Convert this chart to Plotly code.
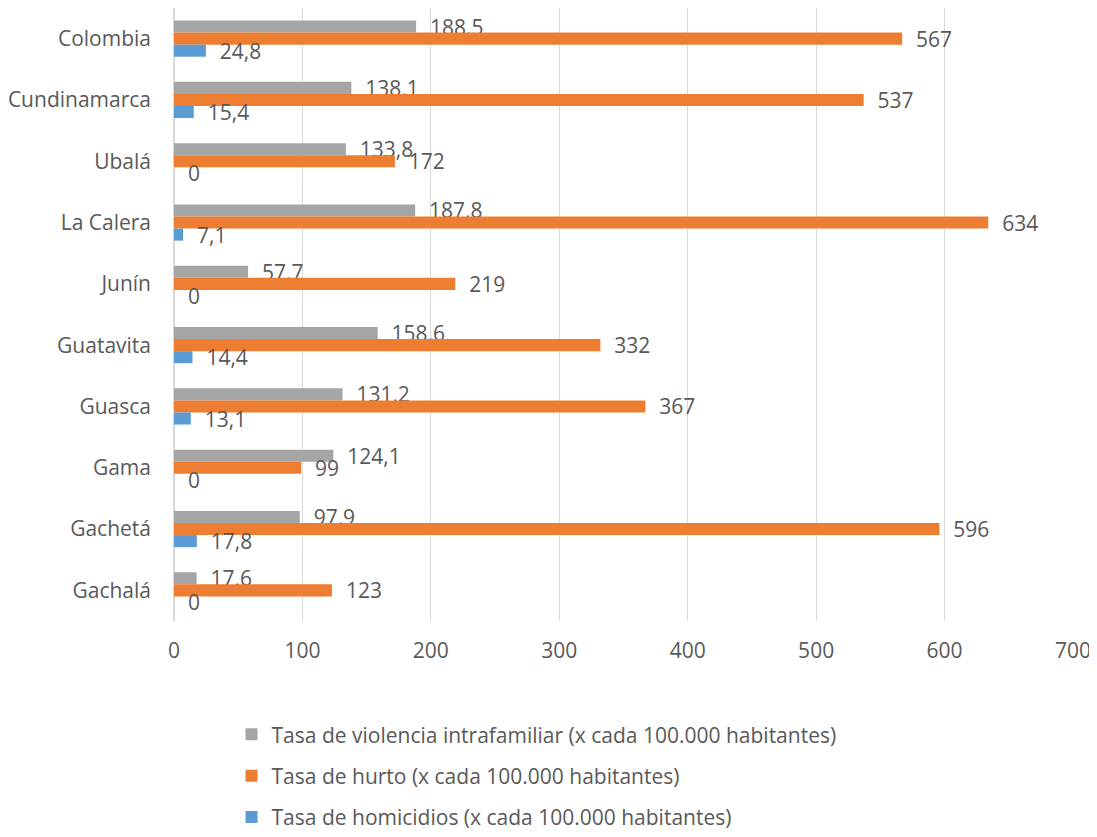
import plotly.graph_objects as go

# municipios, de arriba hacia abajo
municipios = ["Colombia", "Cundinamarca", "Ubalá", "La Calera", "Junín",
              "Guatavita", "Guasca", "Gama", "Gachetá", "Gachalá"]
violencia = [188.5, 138.1, 133.8, 187.8, 57.7, 158.6, 131.2, 124.1, 97.9, 17.6]
hurto = [567, 537, 172, 634, 219, 332, 367, 99, 596, 123]
homicidios = [24.8, 15.4, 0, 7.1, 0, 14.4, 13.1, 0, 17.8, 0]

nombres = ["Tasa de violencia intrafamiliar (x cada 100.000 habitantes)",
           "Tasa de hurto (x cada 100.000 habitantes)",
           "Tasa de homicidios (x cada 100.000 habitantes)"]
colores = ["#A5A5A5", "#ED7D31", "#5B9BD5"]
txt_color = "#595959"
fuente = "Open Sans"


def etiqueta(v):
    # coma decimal, con un poco de aire delante como en Excel
    return "\u00a0\u00a0" + f"{v:g}".replace(".", ",")


fig = go.Figure()
for i, serie in enumerate([violencia, hurto, homicidios]):
    fig.add_trace(go.Bar(
        y=municipios, x=serie, orientation="h", name=nombres[i],
        marker=dict(color=colores[i], line=dict(width=0)),
        text=[etiqueta(v) for v in serie], textposition="outside",
        constraintext="none",
        textfont=dict(size=21, color=txt_color, family=fuente),
        cliponaxis=False, legendgroup=str(i),
    ))

# la pagina tiene 8px de margen en el body
fig.update_layout(
    width=1089, height=829,
    barmode="group", bargap=0.41, bargroupgap=0,
    plot_bgcolor="white", paper_bgcolor="white",
    margin=dict(l=166, r=24, t=0, b=216, autoexpand=False),
    font=dict(family=fuente, color=txt_color, size=21),
    legend=dict(orientation="v", x=0.064, xanchor="left", y=-0.152, yanchor="top",
                font=dict(size=21, color=txt_color), tracegroupgap=11,
                itemwidth=30, bgcolor="rgba(0,0,0,0)"),
    xaxis=dict(range=[0, 700], dtick=100, showgrid=True, gridcolor="#D9D9D9",
               zeroline=True, zerolinecolor="#D9D9D9", showline=False,
               automargin=False,
               tickfont=dict(size=21, color=txt_color), ticklabelstandoff=15),
    yaxis=dict(autorange="reversed", showgrid=False, showline=False,
               automargin=False,
               tickfont=dict(size=21, color=txt_color), ticklabelstandoff=22),
)

fig.write_html("out.html")
